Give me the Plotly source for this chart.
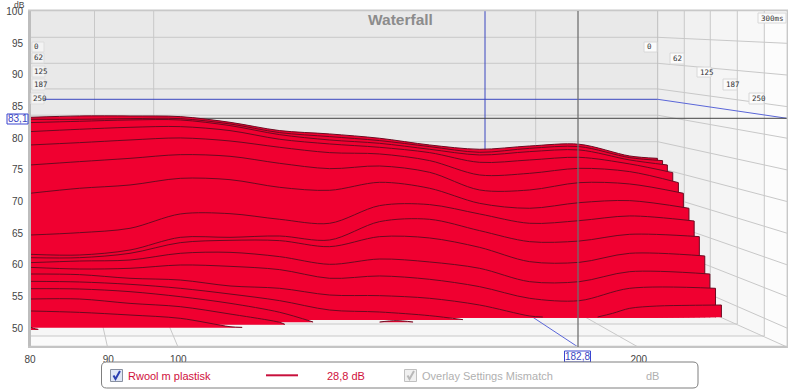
import plotly.graph_objects as go

FREQ_HZ = [80, 86.2, 93, 100.3, 108.1, 116.5, 125.6, 135.4, 146, 157.4, 169.7, 182.9, 197.3]
Y_TICKS = [100, 95, 90, 85, 80, 75, 70, 65, 60, 55, 50]
X_TICKS = [80, 90, 100, 200, 250]
X_LABELS = ["80", "90", "100", "200", "250 Hz"]

SLICE_01 = [83.31, 83.52, 83.52, 83.42, 82.52, 81.21, 80.68, 80.0, 78.94, 78.26, 78.78, 79.05, 77.2, 76.83]
SLICE_02 = [83.0, 83.0, 83.1, 83.1, 82.26, 80.89, 80.26, 79.63, 78.68, 77.78, 78.41, 78.68, 76.94, 76.47]
SLICE_03 = [82.47, 82.68, 82.89, 82.89, 82.0, 80.57, 79.73, 79.2, 78.26, 77.36, 77.89, 78.15, 76.57, 75.78]
SLICE_04 = [81.05, 81.42, 81.73, 81.84, 81.21, 79.84, 79.1, 78.57, 77.73, 76.2, 76.57, 76.99, 75.94, 74.57]
SLICE_05 = [78.94, 79.31, 79.73, 80.05, 79.57, 78.57, 77.73, 77.52, 76.47, 74.2, 74.46, 75.25, 74.73, 72.99]
SLICE_06 = [75.78, 76.31, 76.83, 77.41, 77.15, 76.04, 75.2, 75.62, 74.62, 71.83, 71.83, 72.99, 72.78, 71.31]
SLICE_07 = [71.31, 72.1, 72.62, 73.67, 73.46, 72.25, 71.78, 73.04, 72.1, 69.72, 68.94, 69.83, 70.15, 68.94]
SLICE_08 = [64.72, 65.09, 65.78, 68.04, 68.09, 67.2, 66.57, 69.36, 69.52, 68.04, 66.57, 66.99, 67.73, 66.93]
SLICE_09 = [61.67, 61.56, 62.35, 64.35, 64.35, 64.56, 63.93, 66.83, 67.2, 65.41, 63.67, 63.77, 64.83, 64.46]
SLICE_10 = [61.14, 61.14, 61.83, 63.51, 63.88, 63.83, 62.88, 64.46, 64.25, 62.77, 60.51, 60.4, 61.83, 61.41]
SLICE_11 = [60.35, 60.61, 60.77, 61.83, 61.98, 61.3, 60.09, 60.93, 60.46, 59.46, 57.35, 57.35, 58.93, 58.56]
SLICE_12 = [59.61, 59.35, 59.46, 59.98, 59.77, 59.25, 57.88, 58.25, 57.72, 56.56, 54.72, 54.35, 56.3, 56.3]
END_HZ = [205.7, 207.3, 208.8, 210.5, 212.3, 213.9, 215.7, 217.4, 219.1, 220.9, 222.6, 224.5]

S13A_HZ = [80, 86.2, 93, 100.3, 108.1, 116.5, 125.6, 135.4, 146, 157.4, 169.7, 173.1]
S13A_DB = [58.56, 58.46, 57.88, 57.61, 56.67, 56.3, 55.24, 55.14, 54.72, 53.66, 51.93, 51.77]
S13B_HZ = [188, 192.3, 197.3, 205.5, 216, 226.5]
S13B_DB = [51.77, 52.35, 53.14, 53.5, 53.61, 53.66]
S14_HZ = [80, 86.2, 93, 100.3, 108.1, 116.5, 125.6, 135.4, 146, 153.5]
S14_DB = [57.4, 57.3, 56.93, 56.3, 55.4, 54.35, 52.87, 52.56, 51.98, 51.35]
S15A_HZ = [80, 86.2, 93, 100.3, 108.1, 116.5, 122.5]
S15A_DB = [56.24, 56.19, 55.77, 54.98, 53.93, 52.51, 50.98]
S15B_HZ = [135.4, 138.8, 142.4]
S15B_DB = [50.98, 51.19, 50.98]
S16_HZ = [80, 86.2, 93, 100.3, 108.1, 116.5, 117.4]
S16_DB = [54.61, 54.61, 53.92, 53.4, 52.24, 50.92, 50.61]
S17_HZ = [80, 86.2, 93, 100.3, 108.1, 110.1]
S17_DB = [52.72, 52.5, 52.08, 51.56, 50.24, 50.13]
S18_HZ = [80, 80.4, 81]
S18_DB = [50.24, 49.98, 49.82]

BASE_MAIN, BASE_14, BASE_15, BASE_16, BASE_17, BASE_18 = 51.72, 51.3, 50.93, 50.56, 50.08, 49.71

RED = "#f00030"
DARK = "#6b0a20"
W, H = 800, 390
L, R, T, B = 30, 787, 11, 347

fig = go.Figure()


def add_slice(freqs, dbs, base, edge=False):
    fig.add_trace(go.Scatter(x=[freqs[0], freqs[-1]], y=[base, base], mode="lines",
                             line=dict(width=0, color=RED), hoverinfo="skip", showlegend=False))
    fig.add_trace(go.Scatter(x=freqs, y=dbs, mode="lines", fill="tonexty", fillcolor=RED,
                             line=dict(color=DARK, width=1, shape="spline", smoothing=0.9),
                             hoverinfo="skip", showlegend=False))
    if edge:
        fig.add_trace(go.Scatter(x=[freqs[-1], freqs[-1]], y=[dbs[-1], base], mode="lines",
                                 line=dict(color=DARK, width=1), hoverinfo="skip", showlegend=False))


full = [SLICE_01, SLICE_02, SLICE_03, SLICE_04, SLICE_05, SLICE_06, SLICE_07, SLICE_08, SLICE_09,
        SLICE_10, SLICE_11, SLICE_12]
for vals, end in zip(full, END_HZ):
    add_slice(FREQ_HZ + [end], vals, BASE_MAIN, edge=True)
add_slice(S13B_HZ, S13B_DB, BASE_MAIN, edge=True)
add_slice(S13A_HZ, S13A_DB, BASE_MAIN)
add_slice(S14_HZ, S14_DB, BASE_14)
add_slice(S15A_HZ, S15A_DB, BASE_15)
add_slice(S15B_HZ, S15B_DB, BASE_15)
add_slice(S16_HZ, S16_DB, BASE_16)
add_slice(S17_HZ, S17_DB, BASE_17)
add_slice(S18_HZ, S18_DB, BASE_18)

fig.add_trace(go.Scatter(x=[L, R], y=[T, B], xaxis="x2", yaxis="y2", mode="lines",
                         line=dict(width=0), hoverinfo="skip", showlegend=False))

shapes = []
annots = []


def poly(pts, fill, layer="below"):
    path = "M " + " L ".join(f"{x},{y}" for x, y in pts) + " Z"
    shapes.append(dict(type="path", xref="x2", yref="y2", path=path, fillcolor=fill,
                       line=dict(width=0), layer=layer))


def seg(x0, y0, x1, y1, color, width=1, layer="below"):
    shapes.append(dict(type="line", xref="x2", yref="y2", x0=x0, y0=y0, x1=x1, y1=y1,
                       line=dict(color=color, width=width), layer=layer))


def px(x, y):
    return (x - L) / (R - L), (B - y) / (B - T)


def box(x0, y0, x1, y1, fill, line, width=1, layer="above"):
    a, b = px(x0, y0)
    c, d = px(x1, y1)
    shapes.append(dict(type="rect", xref="paper", yref="paper", x0=a, y0=b, x1=c, y1=d,
                       fillcolor=fill, line=dict(color=line, width=width), layer=layer))


def text(x, y, s, size=10, color="#444444", anchor="center", family="Liberation Sans"):
    a, b = px(x, y)
    annots.append(dict(xref="paper", yref="paper", x=a, y=b, text=s, showarrow=False,
                       xanchor=anchor, yanchor="middle", borderpad=0,
                       font=dict(size=size, color=color, family=family)))


poly([(L, T), (657.7, T), (657.7, 289), (L, 289)], "#e9e9e9")
XR = [657.7, 684.3, 710.3, 737.3, 764.3, 787]
YF = [289, 300, 312, 324, 336, 347]
WALL = ["#eeeeee", "#f1f1f1", "#f5f5f5", "#f8f8f8", "#fcfcfc"]
FLOOR = ["#eeeeee", "#f1f1f1", "#f4f4f4", "#f6f6f6", "#fafafa"]
for i in range(5):
    poly([(XR[i], T), (XR[i + 1], T), (XR[i + 1], YF[i + 1]), (XR[i], YF[i])], WALL[i])
    poly([(L, YF[i]), (XR[i], YF[i]), (XR[i + 1], YF[i + 1]), (L, YF[i + 1])], FLOOR[i])

GRID = "#c8c8c8"
back_y = [37.3, 63.3, 88.9, 115.2, 141.7, 167.7, 193.7, 219.7, 245.7, 271.7]
front_y = [43.3, 75, 106.6, 138.2, 169.9, 201.5, 233.2, 264.8, 296.5, 328.1]
for by, fy in zip(back_y, front_y):
    seg(L, by, 657.7, by, GRID)
    seg(657.7, by, R, fy, GRID)
seg(657.7, T, 657.7, 289, "#bdbdbd")
for xb, xf in [(94.5, 107.5), (153.7, 178), (535.7, 638)]:
    seg(xb, T, xb, 289, GRID)
    seg(xb, 289, xf, B, GRID)
for i in range(1, 5):
    seg(XR[i], T, XR[i], YF[i], GRID)
    seg(L, YF[i], XR[i], YF[i], GRID)
seg(657.7, 289, R, B, GRID)

seg(485, T, 485, 152, "#3a46c0")
seg(L, 99.3, 657.7, 99.3, "#3a46c0")
seg(657.7, 99.3, R, 118.3, "#5a66d8")
seg(L, 118.3, R, 118.3, "#444444")
seg(532, 316.7, 578, B, "#5a66d8")

box(28, 10, 31, 348, "#bdbdbd", "#bdbdbd", 0)
box(28, 345.8, 788, 348, "#c4c4c4", "#c4c4c4", 0)
box(28, 9.6, 788, 11.2, "#c8c8c8", "#c8c8c8", 0)
box(786.6, 10, 788, 348, "#c8c8c8", "#c8c8c8", 0)

seg(578, T, 578, B, "rgba(110,110,110,0.85)", 1.5, "above")

text(400, 19.5, "<b>Waterfall</b>", 15.5, "#8c8c8c")
text(19.5, 4.8, "dB", 8.5)

LEFT_BOXES = [("0", 32, 42, 44, 52), ("62", 32, 53, 44, 63), ("125", 32, 66, 45, 77),
              ("187", 32, 79, 45, 90), ("250", 31, 93, 44, 104)]
RIGHT_BOXES = [("0", 644, 42, 657, 52), ("62", 670, 53, 684, 64), ("125", 697, 67, 711, 77),
               ("187", 723, 79, 737, 90), ("250", 749, 93, 764, 104), ("300ms", 758, 13, 786, 23)]
for s, x0, y0, x1, y1 in LEFT_BOXES:
    box(x0, y0, x1, y1, "#f3f3f3", "#dddddd", 1)
    text(x0 + 1, (y0 + y1) / 2, s, 7.5, "#333333", "left", "DejaVu Sans Mono")
for s, x0, y0, x1, y1 in RIGHT_BOXES:
    box(x0, y0, x1, y1, "#fbfbfb", "#d8d8d8", 1)
    text(x0 + 1.5, (y0 + y1) / 2, s, 7.5, "#333333", "left", "DejaVu Sans Mono")

box(7, 114, 28, 124, "#ffffff", "#3a46d0", 1)
box(564.5, 351, 590.5, 362, "#ffffff", "#3a46d0", 1)
text(17.5, 119, "83,1", 10, "#3a46c0")
text(577.5, 356.5, "182,8", 10, "#3a46c0")

a, b = px(101.5, 362)
c, d = px(698, 388)
rx = 5 / (R - L)
ry = 5 / (B - T)
shapes.append(dict(type="path", xref="paper", yref="paper", line=dict(color="#7f7f7f", width=1),
                   fillcolor="#ffffff", layer="above",
                   path=f"M {a + rx},{b} L {c - rx},{b} Q {c},{b} {c},{b - ry} L {c},{d + ry} "
                        f"Q {c},{d} {c - rx},{d} L {a + rx},{d} Q {a},{d} {a},{d + ry} "
                        f"L {a},{b - ry} Q {a},{b} {a + rx},{b} Z"))
box(110.5, 369.5, 122.5, 381.5, "#dfe6f5", "#8890a0", 1)
box(404.5, 369.5, 416.5, 381.5, "#f0f0f0", "#c0c0c0", 1)


def check(x, color):
    pts = [(x + 3, 375.5), (x + 5, 379), (x + 9.5, 371)]
    path = "M " + " L ".join("{},{}".format(*px(*p)) for p in pts)
    shapes.append(dict(type="path", xref="paper", yref="paper", path=path,
                       line=dict(color=color, width=2), layer="above"))


check(110.5, "#2a3fb0")
check(404.5, "#b8b8b8")
p0, q0 = px(266, 375.3)
p1, q1 = px(298, 375.3)
shapes.append(dict(type="line", xref="paper", yref="paper", x0=p0, y0=q0, x1=p1, y1=q1,
                   line=dict(color="#c8103c", width=2), layer="above"))
text(127, 375.5, "Rwool m plastisk", 11, "#d0103c", "left")
text(346, 375.5, "28,8 dB", 11, "#d0103c")
text(421, 375.5, "Overlay Settings Mismatch", 11, "#b0b0b0", "left")
text(652, 375.5, "dB", 11, "#b0b0b0")

font = dict(family="Liberation Sans", size=10, color="#444444")
fig.update_layout(
    width=W, height=H, autosize=False,
    margin=dict(l=L, r=W - R, t=T, b=H - B, pad=0, autoexpand=False),
    paper_bgcolor="#ffffff", plot_bgcolor="rgba(0,0,0,0)",
    showlegend=False, font=font, shapes=shapes, annotations=annots,
    xaxis=dict(type="log", range=[1.90309, 2.39794], tickmode="array", tickvals=X_TICKS,
               ticktext=X_LABELS, showgrid=False, zeroline=False, showline=False,
               ticks="outside", ticklen=3, tickcolor="rgba(0,0,0,0)", tickfont=font),
    yaxis=dict(range=[47.03, 100.1], tickmode="array", tickvals=Y_TICKS, showgrid=False,
               zeroline=False, showline=False, ticks="outside", ticklen=4,
               tickcolor="rgba(0,0,0,0)", tickfont=font),
    xaxis2=dict(overlaying="x", range=[L, R], visible=False, anchor="y2"),
    yaxis2=dict(overlaying="y", range=[B, T], visible=False, anchor="x2"),
)
fig.write_html("out.html", config=dict(displayModeBar=False),
               post_script="document.body.style.margin='0';document.body.style.overflow='hidden';")
